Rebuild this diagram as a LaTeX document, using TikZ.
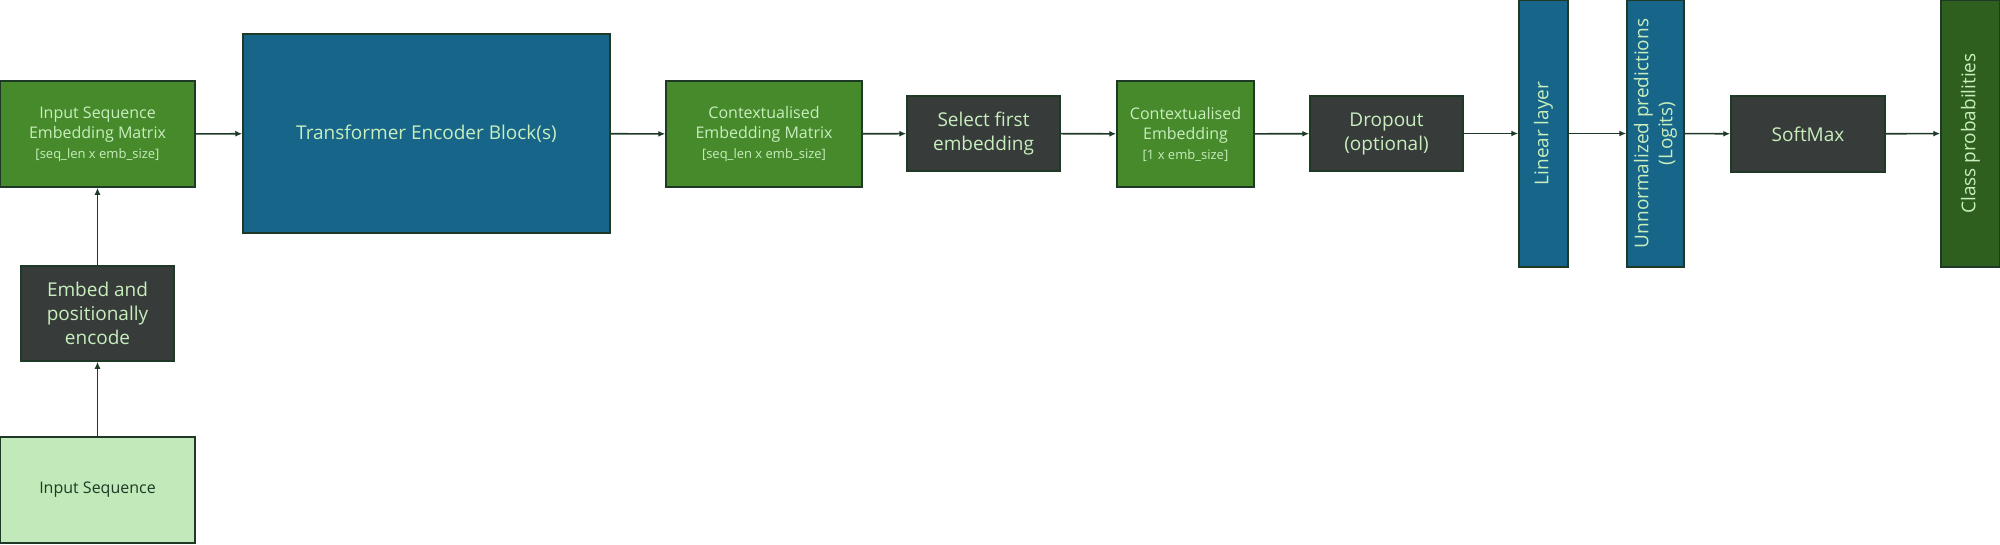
\documentclass[tikz,border=0pt]{standalone}
\usepackage{fontspec}
\setmainfont{Open Sans}
\usetikzlibrary{arrows.meta}
\definecolor{gbox}{HTML}{478A2C}
\definecolor{gdark}{HTML}{2F5F1F}
\definecolor{glight}{HTML}{C2E9B9}
\definecolor{bbox}{HTML}{17668A}
\definecolor{dbox}{HTML}{373C3B}
\definecolor{edge}{HTML}{1E3A26}
\definecolor{tlight}{HTML}{C8EEBD}
\tikzset{
  base/.style={draw=edge, line width=1.5pt, inner sep=2pt, align=center, text=tlight},
  greenbox/.style={base, fill=gbox},
  bluebox/.style={base, fill=bbox},
  darkbox/.style={base, fill=dbox},
  lightbox/.style={base, fill=glight, text=edge},
  clsbox/.style={base, fill=gdark},
  conn/.style={draw=edge, line width=1.6pt, -{Latex[length=7pt,width=6pt]}},
  fmain/.style={font=\fontsize{16}{20}\selectfont},
  fbig/.style={font=\fontsize{19}{24}\selectfont},
}
\newcommand{\smallline}[1]{{\fontsize{13}{16}\selectfont #1}}
\begin{document}
\begin{tikzpicture}[x=1pt,y=-1pt]
\useasboundingbox (0,0) rectangle (2000,544);
\node[greenbox, fmain, minimum width=195pt, minimum height=106pt] (ise) at (97.5,134)
  {Input Sequence\\Embedding Matrix\\\smallline{[seq\_len x emb\_size]}};
\node[bluebox, minimum width=367pt, minimum height=199pt, font=\fontsize{19}{24}\selectfont] (tr) at (426.5,133.5)
  {Transformer Encoder Block(s)};
\node[greenbox, fmain, minimum width=196pt, minimum height=106pt] (cem) at (764,134)
  {Contextualised\\Embedding Matrix\\\smallline{[seq\_len x emb\_size]}};
\node[darkbox, fbig, minimum width=153pt, minimum height=75pt] (sel) at (983.5,133.5)
  {Select first\\embedding};
\node[greenbox, fmain, minimum width=137pt, minimum height=106pt] (ce) at (1185.5,134)
  {Contextualised\\Embedding\\\smallline{[1 x emb\_size]}};
\node[darkbox, fbig, minimum width=153pt, minimum height=75pt] (drop) at (1386.5,133.5)
  {Dropout\\(optional)};
\node[bluebox, fbig, rotate=90, minimum width=267pt, minimum height=49pt] (lin) at (1543.5,133.5)
  {Linear layer};
\node[bluebox, fbig, rotate=90, minimum width=267pt, minimum height=57pt] (unn) at (1655.5,133.5)
  {Unnormalized predictions\\(Logits)};
\node[darkbox, fbig, minimum width=154pt, minimum height=76pt] (soft) at (1808,134)
  {SoftMax};
\node[clsbox, fbig, rotate=90, minimum width=267pt, minimum height=59pt] (cls) at (1970.5,133.5)
  {Class probabilities};
\node[darkbox, fbig, minimum width=153pt, minimum height=95pt] (emb) at (97.5,313.5)
  {Embed and\\positionally\\encode};
\node[lightbox, fmain, minimum width=195pt, minimum height=106pt] (inp) at (97.5,490)
  {Input Sequence};
\draw[conn] (inp) -- (emb);
\draw[conn] (emb) -- (ise);
\draw[conn] (ise) -- (tr);
\draw[conn] (tr) -- (cem);
\draw[conn] (cem) -- (sel);
\draw[conn] (sel) -- (ce);
\draw[conn] (ce) -- (drop);
\draw[conn] (drop) -- (lin);
\draw[conn] (lin) -- (unn);
\draw[conn] (unn) -- (soft);
\draw[conn] (soft) -- (cls);
\end{tikzpicture}
\end{document}
